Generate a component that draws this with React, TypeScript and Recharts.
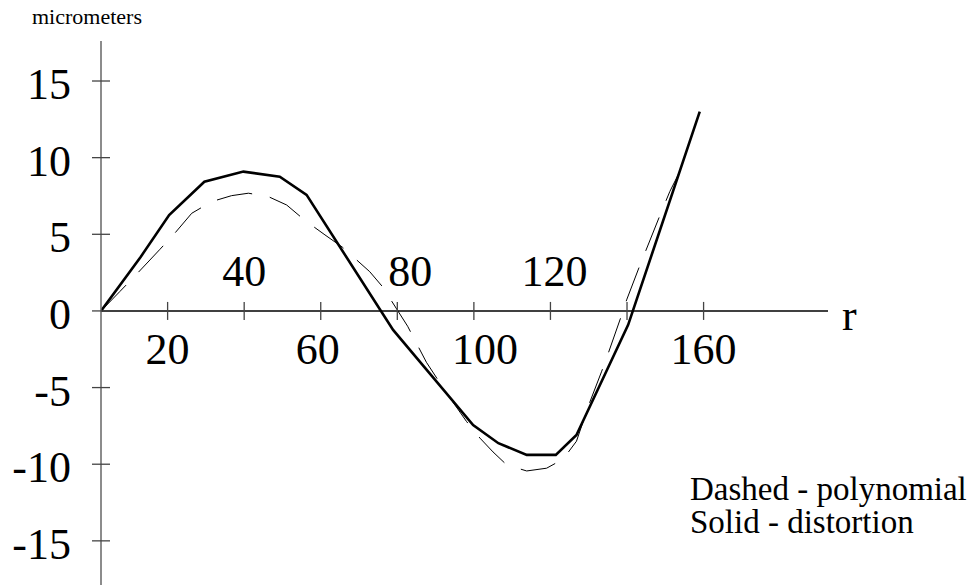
import { LineChart, Line, XAxis, YAxis, ReferenceLine } from 'recharts';

// solid curve - distortion
const solidR = [2.6, 13, 20.4, 29.6, 39.8, 49.3, 56.3, 78.9, 99.8, 106.4, 113.8, 121.4, 126.8, 140.3, 159];
const solidV = [0, 3.54, 6.26, 8.43, 9.09, 8.76, 7.57, -1.24, -7.44, -8.63, -9.39, -9.39, -8.09, -0.91, 13.0];

// dashed curve - polynomial
const polyR = [2.6, 7.5, 11.3, 18, 21.5, 26.3, 31.5, 36.7, 41.1, 46.3, 51.1, 55.9, 61.1, 65.7, 72.8, 76.1, 82.7, 87.6, 92.9, 98.1, 101.6, 105, 108.6, 113.8, 119, 123.3, 126.8, 129.9, 133.4, 135.1, 138.3, 139.9, 143.4, 145.5, 149, 151.2, 153.8, 159];
const polyV = [0, 1.26, 2.24, 4.02, 4.96, 6.37, 7.13, 7.52, 7.68, 7.46, 6.91, 5.9, 4.96, 4.15, 2.56, 1.59, -1.0, -3.35, -5.37, -7.22, -8.3, -9.2, -10.05, -10.44, -10.26, -9.67, -8.5, -6.2, -3.93, -2.76, -0.48, 0.72, 3.0, 4.3, 6.48, 7.8, 9.1, 13.0];

const xTicks = [20, 40, 60, 80, 100, 120, 140, 160];
const xLabels = ['20', '40', '60', '80', '100', '120', '', '160'];
const yTicks = [-15, -10, -5, 0, 5, 10, 15];

const solidData = solidR.map((r, i) => ({ r, v: solidV[i] }));
const polyData = polyR.map((r, i) => ({ r, v: polyV[i] }));

const W = 977;
const H = 586;
const TOP = 41;
const LEFT = 101;
const RIGHT = 828;
const X_AXIS_H = 1;
const Y_MIN = -17.88;
const Y_MAX = 17.61;
const ZERO_Y = TOP + (Y_MAX / (Y_MAX - Y_MIN)) * (H - TOP - X_AXIS_H);

const FONT = "'Liberation Serif', 'Times New Roman', Times, serif";
const serif = { fontFamily: FONT };

// per-label nudges, as in the original drawing
const labelDx: Record<number, number> = { 60: -3, 80: 13, 100: 11, 120: 4 };

function XTick(props: any) {
  const { x, payload } = props;
  const label = xLabels[xTicks.indexOf(payload.value)];
  const above = payload.value === 40 || payload.value === 80 || payload.value === 120;
  return (
    <g>
      <line x1={x} x2={x} y1={ZERO_Y - 9} y2={ZERO_Y + 9} stroke="#444" strokeWidth={1.3} />
      {label && (
        <text
          x={x + (labelDx[payload.value] || 0)}
          y={above ? ZERO_Y - 25 : ZERO_Y + 53}
          textAnchor="middle"
          style={serif}
          fontSize={44}
          fill="#000"
        >
          {label}
        </text>
      )}
    </g>
  );
}

function YTick(props: any) {
  const { x, y, payload } = props;
  return (
    <g>
      <line x1={x - 9} x2={x + 9} y1={y} y2={y} stroke="#444" strokeWidth={1.3} />
      <text x={x - 30} y={y + 18} textAnchor="end" style={serif} fontSize={44} fill="#000">
        {payload.value}
      </text>
    </g>
  );
}

export default function App() {
  return (
    <div style={{ position: 'absolute', left: 0, top: 0, width: W, height: H, background: '#fff', overflow: 'hidden', ...serif }}>
      <LineChart width={W} height={H} margin={{ top: TOP, right: W - RIGHT, bottom: 0, left: 0 }}>
        <XAxis
          type="number"
          dataKey="r"
          domain={[2.6, 192.5]}
          ticks={xTicks}
          tick={<XTick />}
          tickLine={false}
          tickSize={0}
          tickMargin={0}
          axisLine={false}
          height={X_AXIS_H}
          allowDataOverflow
          interval={0}
        />
        <YAxis
          type="number"
          domain={[Y_MIN, Y_MAX]}
          ticks={yTicks}
          tick={<YTick />}
          tickLine={false}
          tickSize={0}
          tickMargin={0}
          width={LEFT}
          axisLine={{ stroke: '#666', strokeWidth: 1.5 }}
          allowDataOverflow
          interval={0}
        />
        <ReferenceLine y={0} stroke="#000" strokeWidth={1.5} />
        <Line
          data={polyData}
          dataKey="v"
          type="linear"
          stroke="#000"
          strokeWidth={1}
          strokeDasharray="36 18"
          dot={false}
          isAnimationActive={false}
        />
        <Line
          data={solidData}
          dataKey="v"
          type="linear"
          stroke="#000"
          strokeWidth={2.6}
          dot={false}
          isAnimationActive={false}
        />
      </LineChart>
      <svg width={W} height={H} style={{ position: 'absolute', left: 0, top: 0, pointerEvents: 'none' }}>
        <text x={32} y={24} style={serif} fontSize={22} fill="#000">micrometers</text>
        <text x={842} y={330} style={serif} fontSize={44} fill="#000">r</text>
        <text x={690} y={500} style={serif} fontSize={33} fill="#000">Dashed - polynomial</text>
        <text x={690} y={533} style={serif} fontSize={33} fill="#000">Solid - distortion</text>
      </svg>
    </div>
  );
}
